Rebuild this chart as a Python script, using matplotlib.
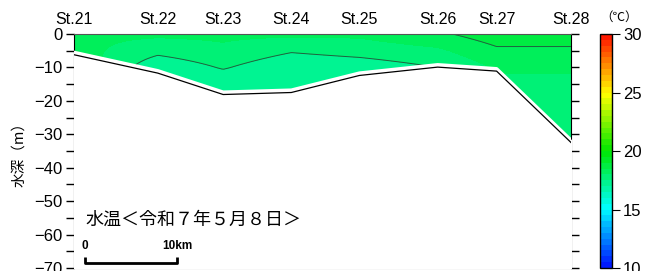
import numpy as np
import matplotlib
matplotlib.use("Agg")
import matplotlib.pyplot as plt
from matplotlib.colors import LinearSegmentedColormap, ListedColormap

plt.rcParams['font.family'] = ['Liberation Sans', 'Noto Sans CJK JP', 'DejaVu Sans']

# stations: name, distance along section (km), bottom depth (m)
stations = ["St.21", "St.22", "St.23", "St.24", "St.25", "St.26", "St.27", "St.28"]
dist_km = [0.0, 9.1, 16.2, 23.6, 31.0, 39.5, 45.9, 54.0]
bottom_m = [-5.5, -11.0, -17.4, -16.8, -11.7, -9.2, -10.4, -31.8]

# temperature profiles (deg C) at these depths, per station
depth_levels = [0, -5, -10, -15, -20, -30, -35]
temp_st21 = [18.1, 18.2, 18.4, 18.5, 18.5, 18.5, 18.5]
temp_st22 = [18.1, 17.65, 17.1, 17.05, 17.05, 17.05, 17.05]
temp_st23 = [18.1, 17.9, 17.55, 17.1, 17.05, 17.05, 17.05]
temp_st24 = [18.1, 17.55, 17.1, 17.05, 17.05, 17.05, 17.05]
temp_st25 = [18.1, 17.7, 17.2, 17.1, 17.1, 17.1, 17.1]
temp_st26 = [18.4, 17.9, 17.5, 17.4, 17.4, 17.4, 17.4]
temp_st27 = [18.8, 18.4, 18.05, 17.9, 17.8, 17.8, 17.8]
temp_st28 = [18.8, 18.4, 18.05, 17.9, 17.8, 17.7, 17.7]
profiles = [temp_st21, temp_st22, temp_st23, temp_st24,
            temp_st25, temp_st26, temp_st27, temp_st28]

cb_ticks = [10, 15, 20, 25, 30]

# colormap blue-cyan-green-yellow-red, 40 steps
base = LinearSegmentedColormap.from_list(
    "wt", [(0.0, (0.0, 0.1, 1.0)), (0.25, (0.0, 1.0, 1.0)),
           (0.5, (0.0, 0.9, 0.0)), (0.75, (1.0, 1.0, 0.0)),
           (1.0, (1.0, 0.1, 0.0))])
cmap = ListedColormap(base(np.linspace(0, 1, 40)))
levels = np.arange(10, 30.01, 0.5)

# grid
xg = np.linspace(dist_km[0], dist_km[-1], 300)
zg = np.linspace(0, -35, 200)
zsort = depth_levels[::-1]
prof_fine = np.array([np.interp(zg, zsort, p[::-1]) for p in profiles])
T = np.array([np.interp(xg, dist_km, prof_fine[:, j]) for j in range(len(zg))])

fig = plt.figure(figsize=(6.55, 2.71), dpi=100)
ax = fig.add_axes([0.113, 0.011, 0.759, 0.8635])
cax = fig.add_axes([0.916, 0.011, 0.018, 0.8635])

cf = ax.contourf(xg, zg, T, levels=levels, cmap=cmap, vmin=10, vmax=30)
ax.contour(xg, zg, T, levels=[17.5, 18.5], colors='#206040', linewidths=0.7)

# seabed
ax.fill_between(dist_km, bottom_m, -70, color='white', zorder=3)
ax.plot(dist_km, bottom_m, color='white', lw=2.5, zorder=4)
ax.plot(dist_km, np.array(bottom_m) - 0.7, color='black', lw=0.9, zorder=5)

ax.set_xlim(dist_km[0], dist_km[-1])
ax.set_ylim(-70, 0)
ax.set_yticks(np.arange(-70, 1, 10))
ax.set_yticklabels(["\u221270", "\u221260", "\u221250", "\u221240", "\u221230", "\u221220", "\u221210", "0"])
ax.set_yticks(np.arange(-65, 0, 10), minor=True)
ax.tick_params(axis='y', which='both', direction='out', length=6, width=1,
               labelsize=12, right=True, pad=2)
ax.set_xticks(dist_km)
ax.set_xticklabels(stations)
ax.tick_params(axis='x', top=True, bottom=False, labeltop=True, labelbottom=False,
               length=0, labelsize=11.5, pad=5)
ax.spines['top'].set_color('#555555')
ax.spines['bottom'].set_color('#777777')
ax.spines['left'].set_color('black')
ax.spines['right'].set_color('black')
ax.set_ylabel("水深（m）", family=['Noto Sans CJK JP'], fontsize=10.5, labelpad=6)

ax.text(1.2, -55.5, "水温＜令和７年５月８日＞", family=['Noto Sans CJK JP'],
        fontsize=13, va='center', ha='left', zorder=6)

# scale bar 10 km
sb0 = 1.2
ax.plot([sb0, sb0, sb0 + 10, sb0 + 10], [-66.8, -68.4, -68.4, -66.8],
        color='black', lw=2, zorder=6, clip_on=False, solid_capstyle='butt')
ax.text(sb0, -63.3, "0", fontsize=8.5, fontweight='bold', ha='center', va='center', zorder=6)
ax.text(sb0 + 10, -63.3, "10km", fontsize=8.5, fontweight='bold', ha='center', va='center', zorder=6)

cb = fig.colorbar(cf, cax=cax, ticks=cb_ticks)
cb.outline.set_linewidth(1)
cb.ax.tick_params(direction='out', length=6, labelsize=12, pad=2)
cax.text(1.6, 1.045, "（℃）", transform=cax.transAxes, family=['Noto Sans CJK JP'],
         fontsize=9, ha='center', va='bottom')

fig.savefig("out.png", dpi=100)
